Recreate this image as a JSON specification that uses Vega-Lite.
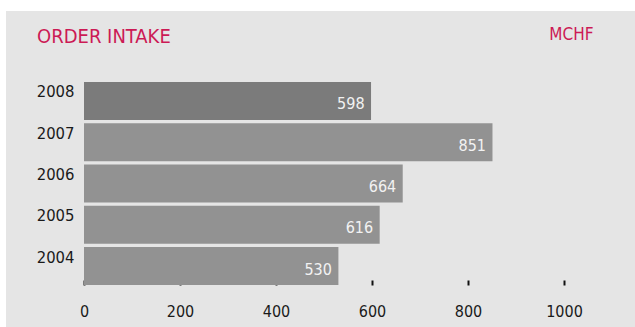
{
  "$schema": "https://vega.github.io/schema/vega-lite/v6.json",
  "width": 629,
  "height": 316,
  "autosize": {"type": "none"},
  "padding": {"left": 6, "top": 11, "right": 0, "bottom": 0},
  "background": "#ffffff",
  "view": {"fill": "#e5e5e5", "stroke": null},
  "title": {
    "text": "ORDER INTAKE",
    "anchor": "start",
    "frame": "group",
    "dx": 31,
    "offset": -52,
    "baseline": "alphabetic",
    "font": "DejaVu Sans Condensed, sans-serif",
    "fontSize": 20,
    "fontWeight": "normal",
    "color": "#cc1a55"
  },
  "data": {
    "values": [
      {"year": "2008", "value": 598, "period": "current"},
      {"year": "2007", "value": 851, "period": "past"},
      {"year": "2006", "value": 664, "period": "past"},
      {"year": "2005", "value": 616, "period": "past"},
      {"year": "2004", "value": 530, "period": "past"}
    ]
  },
  "encoding": {
    "y": {
      "field": "year",
      "type": "nominal",
      "sort": ["2008", "2007", "2006", "2005", "2004"],
      "scale": {"range": [71, 274], "paddingInner": 0.079, "paddingOuter": 0},
      "axis": {
        "orient": "left",
        "offset": -78,
        "ticks": false,
        "domain": false,
        "grid": false,
        "labelPadding": 10,
        "labelOffset": -8.5,
        "labelFont": "DejaVu Sans Condensed, sans-serif",
        "labelFontSize": 16.5,
        "labelColor": "#1a1a1a",
        "title": "MCHF",
        "titleAngle": 0,
        "titleX": 509,
        "titleY": 28.7,
        "titleAlign": "right",
        "titleBaseline": "alphabetic",
        "titleFont": "DejaVu Sans Condensed, sans-serif",
        "titleFontSize": 17,
        "titleFontWeight": "normal",
        "titleColor": "#cc1a55"
      }
    },
    "x": {
      "field": "value",
      "type": "quantitative",
      "scale": {"domain": [0, 1000], "range": [78, 558], "nice": false},
      "axis": {
        "orient": "bottom",
        "offset": -47,
        "values": [0, 200, 400, 600, 800, 1000],
        "format": "d",
        "domain": false,
        "grid": false,
        "tickSize": 5,
        "tickWidth": 2,
        "tickColor": "#111111",
        "labelPadding": 18,
        "labelFlush": false,
        "labelOverlap": false,
        "labelFont": "DejaVu Sans Condensed, sans-serif",
        "labelFontSize": 16,
        "labelColor": "#1a1a1a",
        "title": null
      }
    }
  },
  "layer": [
    {
      "mark": {"type": "bar"},
      "encoding": {
        "color": {
          "field": "period",
          "type": "nominal",
          "scale": {"domain": ["current", "past"], "range": ["#7b7b7b", "#929292"]},
          "legend": null
        }
      }
    },
    {
      "mark": {
        "type": "text",
        "align": "right",
        "baseline": "alphabetic",
        "dx": -6.5,
        "dy": 8.5,
        "font": "DejaVu Sans Condensed, sans-serif",
        "fontSize": 16,
        "color": "#f2f2f2"
      },
      "encoding": {"text": {"field": "value", "type": "quantitative"}}
    }
  ]
}
